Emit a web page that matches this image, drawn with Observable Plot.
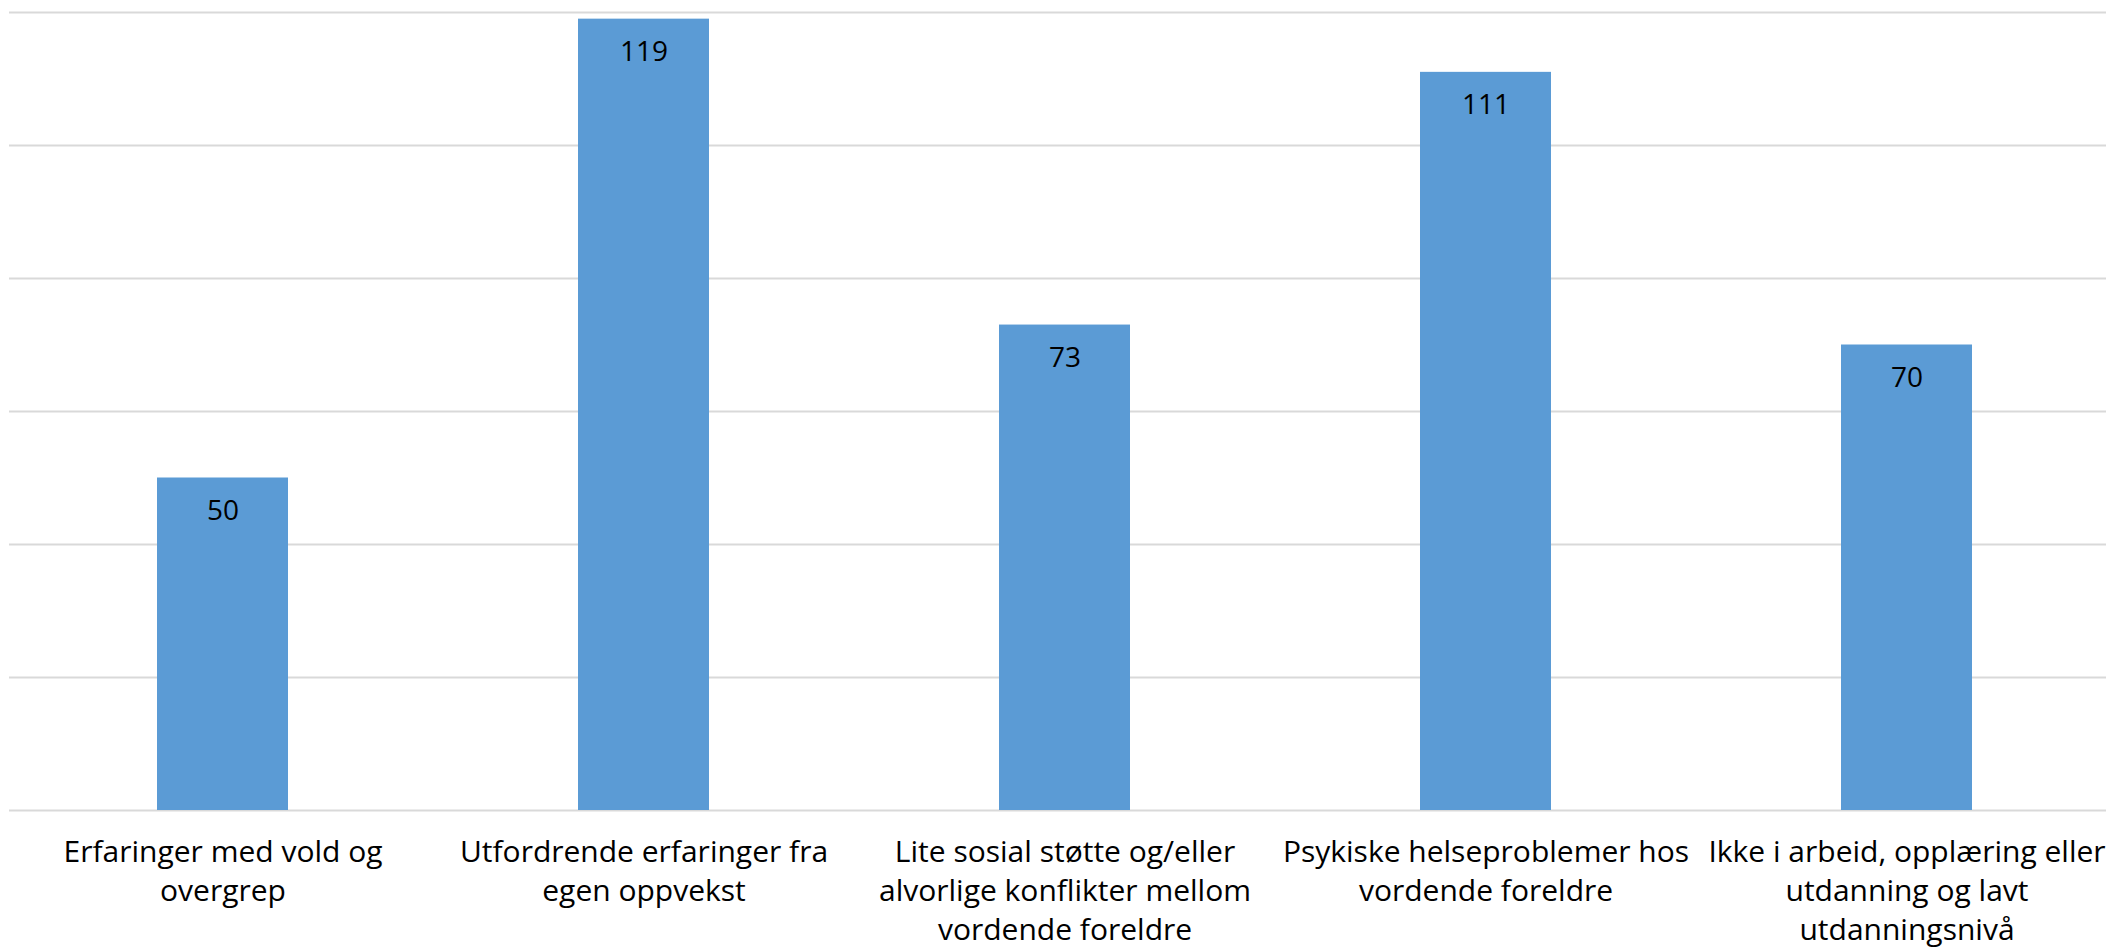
<!DOCTYPE html>
<html>
<head>
<meta charset="utf-8">
<script src="https://cdn.jsdelivr.net/npm/d3@7"></script>
<script src="https://cdn.jsdelivr.net/npm/@observablehq/plot@0.6"></script>
<style>
  html, body { margin: 0; padding: 0; background: #fff; overflow: hidden; }
  #chart svg { overflow: hidden; }
</style>
</head>
<body>
<div id="chart"></div>
<script>
const categories = [
  "Erfaringer med vold og overgrep",
  "Utfordrende erfaringer fra egen oppvekst",
  "Lite sosial støtte og/eller alvorlige konflikter mellom vordende foreldre",
  "Psykiske helseproblemer hos vordende foreldre",
  "Ikke i arbeid, opplæring eller utdanning og lavt utdanningsnivå"
];
const tickLabels = [
  "Erfaringer med vold og\novergrep",
  "Utfordrende erfaringer fra\negen oppvekst",
  "Lite sosial støtte og/eller\nalvorlige konflikter mellom\nvordende foreldre",
  "Psykiske helseproblemer hos\nvordende foreldre",
  "Ikke i arbeid, opplæring eller\nutdanning og lavt\nutdanningsnivå"
];
const values = [50, 119, 73, 111, 70];
const yTicks = [0, 20, 40, 60, 80, 100, 120];

const data = categories.map((c, i) => ({category: c, value: values[i]}));
const labelOf = new Map(categories.map((c, i) => [c, tickLabels[i]]));

const font = "'Open Sans', Calibri, sans-serif";

const chart = Plot.plot({
  width: 2106,
  height: 949,
  marginTop: 12,
  marginBottom: 139,
  marginLeft: 9,
  marginRight: 0,
  style: {fontFamily: font, background: "#fff"},
  x: {domain: categories, range: [9, 2120], paddingInner: 0.688, paddingOuter: 0.349, axis: null, label: null},
  y: {domain: [0, 120], axis: null},
  marks: [
    Plot.ruleY(yTicks, {stroke: "#d9d9d9", strokeWidth: 2}),
    Plot.barY(data, {x: "category", y: "value", fill: "#5b9bd5"}),
    Plot.text(data, {x: "category", y: "value", text: d => String(d.value), dy: 33, fontSize: 28, fill: "#000", fontFamily: font}),
    Plot.axisX({
      label: null,
      tickSize: 0,
      tickPadding: 24,
      fontSize: 30,
      lineHeight: 1.3,
      tickFormat: d => labelOf.get(d),
      color: "#000",
      fontFamily: font
    })
  ]
});
document.getElementById("chart").append(chart);
</script>
</body>
</html>
